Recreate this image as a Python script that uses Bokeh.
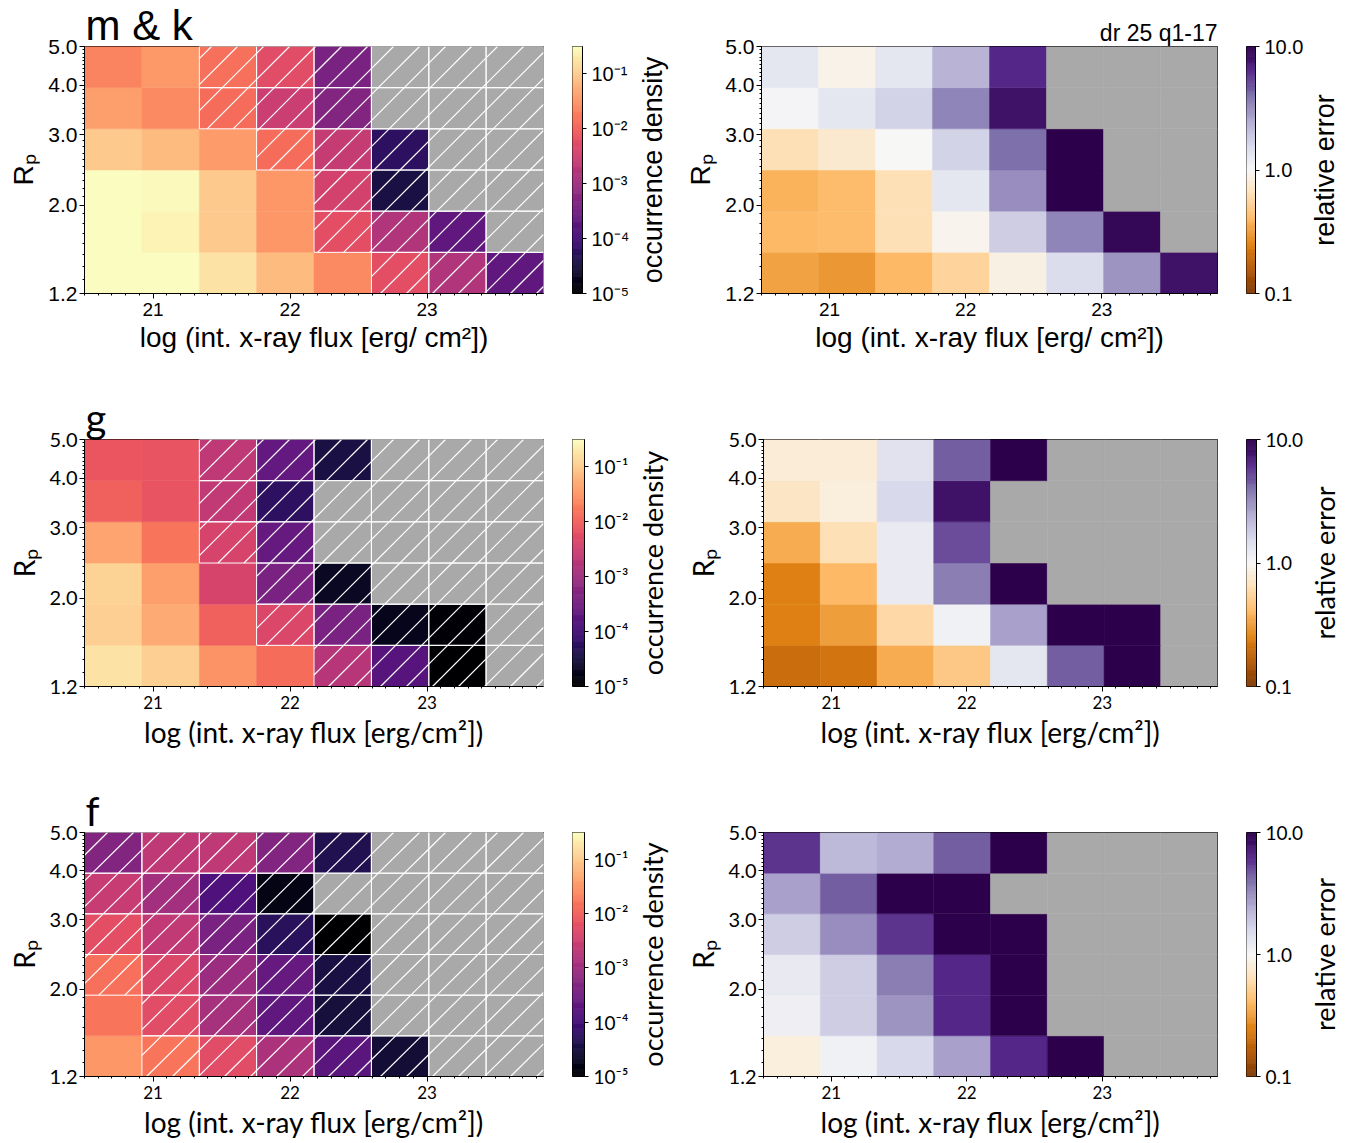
import math
import numpy as np
from bokeh.plotting import figure
from bokeh.layouts import row, column
from bokeh.models import (ColumnDataSource, LogColorMapper, FixedTicker,
                          CustomJSTickFormatter, Range1d, Title)
from bokeh.palettes import Magma256
from bokeh.embed import file_html
from bokeh.resources import INLINE

nan = float("nan")

# ---------------- data ----------------
flux_edges = [20.5, 20.919, 21.338, 21.756, 22.175, 22.594, 23.013, 23.431, 23.85]
rp_edges = [1.2, 1.522, 1.931, 2.449, 3.107, 3.941, 5.0]
x_major = [21, 22, 23]
y_major = [1.2, 2.0, 3.0, 4.0, 5.0]
panel_names = ["m & k", "g", "f"]
dens_ticks = [1e-5, 1e-4, 1e-3, 1e-2, 1e-1]
err_ticks = [0.1, 1.0, 10.0]
dens_low, dens_high = 1e-5, 0.31
err_low, err_high = 0.1, 10.0

# rows listed from the bottom Rp bin (1.2-1.52) to the top bin (3.94-5.0)
density_mk = [
    [0.31, 0.30, 0.17, 0.07, 0.025, 6e-3, 1.6e-3, 2e-4],
    [0.30, 0.25, 0.10, 0.033, 6e-3, 1.6e-3, 2e-4, nan],
    [0.30, 0.28, 0.10, 0.033, 3.7e-3, 3.5e-5, nan, nan],
    [0.10, 0.07, 0.035, 0.013, 2.6e-3, 5.8e-5, nan, nan],
    [0.039, 0.025, 0.013, 3e-3, 5e-4, nan, nan, nan],
    [0.022, 0.034, 0.014, 5.5e-3, 4e-4, nan, nan, nan],
]
hatch_mk = [
    [0, 0, 0, 0, 0, 1, 1, 1],
    [0, 0, 0, 0, 1, 1, 1, 1],
    [0, 0, 0, 0, 1, 1, 1, 1],
    [0, 0, 0, 1, 1, 1, 1, 1],
    [0, 0, 1, 1, 1, 1, 1, 1],
    [0, 0, 1, 1, 1, 1, 1, 1],
]
error_mk = [
    [0.33, 0.30, 0.40, 0.55, 0.87, 1.5, 3.0, 8.0],
    [0.40, 0.42, 0.63, 0.92, 1.8, 3.4, 9.0, nan],
    [0.38, 0.42, 0.63, 1.3, 3.2, 12.0, nan, nan],
    [0.63, 0.75, 1.0, 1.7, 4.0, 12.0, nan, nan],
    [1.05, 1.3, 1.7, 3.4, 8.0, nan, nan, nan],
    [1.3, 0.9, 1.3, 2.3, 6.3, nan, nan, nan],
]

density_g = [
    [0.17, 0.11, 0.03, 0.013, 1.8e-3, 1.6e-4, 1e-5, nan],
    [0.11, 0.05, 0.01, 4.5e-3, 4e-4, 1.7e-5, 1.1e-5, nan],
    [0.12, 0.039, 4e-3, 4e-4, 2e-5, nan, nan, nan],
    [0.044, 0.016, 4e-3, 2.4e-4, nan, nan, nan, nan],
    [0.01, 7e-3, 2.4e-3, 5.8e-5, nan, nan, nan, nan],
    [7.5e-3, 7e-3, 2.2e-3, 2.2e-4, 3.5e-5, nan, nan, nan],
]
hatch_g = [
    [0, 0, 0, 0, 1, 1, 1, 1],
    [0, 0, 0, 1, 1, 1, 1, 1],
    [0, 0, 0, 1, 1, 1, 1, 1],
    [0, 0, 1, 1, 1, 1, 1, 1],
    [0, 0, 1, 1, 1, 1, 1, 1],
    [0, 0, 1, 1, 1, 1, 1, 1],
]
error_g = [
    [0.2, 0.22, 0.36, 0.48, 1.3, 4.5, 12.0, nan],
    [0.25, 0.32, 0.58, 1.1, 2.7, 12.0, 12.0, nan],
    [0.25, 0.4, 1.2, 3.6, 12.0, nan, nan, nan],
    [0.36, 0.63, 1.2, 5.0, nan, nan, nan, nan],
    [0.7, 0.83, 1.58, 8.0, nan, nan, nan, nan],
    [0.8, 0.8, 1.4, 4.5, 12.0, nan, nan, nan],
]

density_f = [
    [0.033, 0.016, 5.5e-3, 1.4e-3, 1.8e-4, 2.8e-5, nan, nan],
    [0.016, 5.5e-3, 1.2e-3, 2e-4, 3.2e-5, nan, nan, nan],
    [0.014, 4.5e-3, 9e-4, 2.4e-4, 3.5e-5, nan, nan, nan],
    [6e-3, 2.4e-3, 4e-4, 5.3e-5, 1e-5, nan, nan, nan],
    [2.7e-3, 1.1e-3, 1.3e-4, 1.5e-5, nan, nan, nan, nan],
    [5e-4, 2.2e-3, 2.2e-3, 5e-4, 4.3e-5, nan, nan, nan],
]
hatch_f = [
    [0, 1, 1, 1, 1, 1, 1, 1],
    [0, 1, 1, 1, 1, 1, 1, 1],
    [1, 1, 1, 1, 1, 1, 1, 1],
    [1, 1, 1, 1, 1, 1, 1, 1],
    [1, 1, 1, 1, 1, 1, 1, 1],
    [1, 1, 1, 1, 1, 1, 1, 1],
]
error_f = [
    [0.83, 1.1, 1.58, 2.7, 6.3, 12.0, nan, nan],
    [1.15, 1.8, 3.0, 6.3, 12.0, nan, nan, nan],
    [1.25, 1.8, 3.6, 6.3, 12.0, nan, nan, nan],
    [1.8, 3.2, 5.8, 12.0, 12.0, nan, nan, nan],
    [2.7, 4.5, 12.0, 12.0, nan, nan, nan, nan],
    [5.8, 2.2, 2.5, 4.5, 12.0, nan, nan, nan],
]

densities = [density_mk, density_g, density_f]
hatches = [hatch_mk, hatch_g, hatch_f]
errors = [error_mk, error_g, error_f]

# ---------------- styles ----------------
NAN_COLOR = "#a9a9a9"
PUOR = ["#7f3b08", "#b35806", "#e08214", "#fdb863", "#fee0b6", "#f7f7f7",
        "#d8daeb", "#b2abd2", "#8073ac", "#542788", "#2d004b"]


def interp_palette(cols, n=256):
    rgb = np.array([[int(c[i:i + 2], 16) for i in (1, 3, 5)] for c in cols], float)
    t = np.linspace(0, 1, len(cols))
    tt = np.linspace(0, 1, n)
    out = []
    for v in tt:
        r, g, b = (np.interp(v, t, rgb[:, k]) for k in range(3))
        out.append("#%02x%02x%02x" % (int(round(r)), int(round(g)), int(round(b))))
    return out


PUOR256 = interp_palette(PUOR)
MAGMA = list(Magma256)

ROW_FONTS = ["Liberation Sans", "Lato", "Lato"]
TITLE_SIZES = ["42px", "40px", "40px"]
FRAME_W, GAP, CB_W, CB_TICKS = 459, 29, 12, 48
LEFTS = [84, 76]
LAB_W = [50, 42]
LAB_STANDOFF = [14, 8]
TOP, FRAME_H = 46, 247
BOTTOMS = [100, 100, 62]
HATCH_SPACING = 26  # screen pixels between 45-degree hatch lines

SUP = CustomJSTickFormatter(code="""
const s = {"-":"\u207b","0":"\u2070","1":"\u00b9","2":"\u00b2","3":"\u00b3",
           "4":"\u2074","5":"\u2075","6":"\u2076","7":"\u2077","8":"\u2078","9":"\u2079"};
const e = Math.round(Math.log10(tick));
return "10" + String(e).split("").map(c => s[c]).join("");
""")
ONE_DEC = CustomJSTickFormatter(code="return tick.toFixed(1);")


def cells(vals, hatch=None):
    d = dict(left=[], right=[], bottom=[], top=[], v=[])
    hd = dict(left=[], right=[], bottom=[], top=[])
    for i, rowvals in enumerate(vals):
        for j, val in enumerate(rowvals):
            d["left"].append(flux_edges[j]); d["right"].append(flux_edges[j + 1])
            d["bottom"].append(rp_edges[i]); d["top"].append(rp_edges[i + 1])
            d["v"].append(val)
            if hatch is not None and hatch[i][j]:
                hd["left"].append(flux_edges[j]); hd["right"].append(flux_edges[j + 1])
                hd["bottom"].append(rp_edges[i]); hd["top"].append(rp_edges[i + 1])
    return ColumnDataSource(d), ColumnDataSource(hd)


def hatch_lines(hatch):
    """45-degree '/' hatch lines clipped to each hatched cell (screen-space geometry)."""
    px_x = FRAME_W / (flux_edges[-1] - flux_edges[0])
    px_y = FRAME_H / math.log(rp_edges[-1] / rp_edges[0])
    U = lambda x: (x - flux_edges[0]) * px_x
    V = lambda y: math.log(y / rp_edges[0]) * px_y
    X = lambda u: flux_edges[0] + u / px_x
    Y = lambda v: rp_edges[0] * math.exp(v / px_y)
    S = HATCH_SPACING
    d = dict(x0=[], y0=[], x1=[], y1=[])
    for i, hrow in enumerate(hatch):
        for j, hflag in enumerate(hrow):
            if not hflag:
                continue
            u0, u1 = U(flux_edges[j]), U(flux_edges[j + 1])
            v0, v1 = V(rp_edges[i]), V(rp_edges[i + 1])
            for k in range(math.floor((u0 - v1) / S) - 1, math.ceil((u1 - v0) / S) + 2):
                c = k * S + 10
                a = max(u0, v0 + c)
                b = min(u1, v1 + c)
                if b - a > 0.5:
                    d["x0"].append(X(a)); d["y0"].append(Y(a - c))
                    d["x1"].append(X(b)); d["y1"].append(Y(b - c))
    return ColumnDataSource(d)


def style_axes(p, font, lab):
    for ax in p.axis:
        ax.axis_line_color = "black"
        ax.major_tick_line_color = "black"
        ax.minor_tick_line_color = "black"
        ax.major_tick_in = 0
        ax.minor_tick_in = 0
        ax.major_tick_out = 5
        ax.minor_tick_out = 2
        ax.major_label_text_font = font
        ax.axis_label_text_font = font
        ax.axis_label_text_font_style = "normal"
        ax.axis_label_text_font_size = lab
        ax.axis_label_text_color = "black"
        ax.major_label_text_color = "black"
    p.grid.visible = False
    p.outline_line_color = "black"
    p.outline_line_width = 1


def heat(vals, mapper, r, side, hatch=None, title=None, corner=None):
    font = ROW_FONTS[r]
    h = TOP + FRAME_H + BOTTOMS[r]
    p = figure(width=LEFTS[side] + FRAME_W + GAP, height=h,
               x_range=Range1d(flux_edges[0], flux_edges[-1]),
               y_range=Range1d(rp_edges[0], rp_edges[-1]),
               y_axis_type="log", output_backend="svg", toolbar_location=None,
               min_border_left=LEFTS[side], min_border_right=GAP,
               min_border_top=TOP, min_border_bottom=BOTTOMS[r])
    src, hsrc = cells(vals, hatch)
    p.quad(left="left", right="right", bottom="bottom", top="top", source=src,
           fill_color={"field": "v", "transform": mapper},
           line_color={"field": "v", "transform": mapper}, line_width=0.5)
    if hatch is not None:
        p.segment(x0="x0", y0="y0", x1="x1", y1="y1", source=hatch_lines(hatch),
                  line_color="white", line_width=1.2)
        p.quad(left="left", right="right", bottom="bottom", top="top", source=hsrc,
               fill_color=None, line_color="white", line_width=1)
    p.xaxis.ticker = FixedTicker(ticks=x_major,
                                 minor_ticks=[round(20.5 + 0.1 * k, 1) for k in range(34)])
    p.yaxis.ticker = FixedTicker(ticks=y_major,
                                 minor_ticks=[round(1.2 + 0.1 * k, 1) for k in range(39)])
    p.yaxis.formatter = ONE_DEC
    xl = "log (int. x-ray flux [erg/ cm\u00b2])" if r == 0 else "log (int. x-ray flux [erg/cm\u00b2])"
    p.xaxis.axis_label = xl
    p.yaxis.axis_label = "R\u209a"
    style_axes(p, font, "28px")
    p.yaxis.major_label_text_font_size = "21px" if r == 0 else "20px"
    p.xaxis.major_label_text_font_size = "19px" if r == 0 else "17px"
    p.yaxis.major_label_standoff = 2
    p.xaxis.major_label_standoff = 4
    p.yaxis.axis_label_standoff = 6
    p.xaxis.axis_label_standoff = 3
    if title:
        p.add_layout(Title(text=title, align="left", vertical_align="bottom", standoff=-4,
                           offset=1, text_font=font, text_font_size=TITLE_SIZES[r],
                           text_font_style="normal", text_color="black"), "above")
    if corner:
        p.add_layout(Title(text=corner, align="right", vertical_align="bottom", standoff=2,
                           offset=0, text_font=font, text_font_size="23px",
                           text_font_style="normal", text_color="black"), "above")
    return p


def cbar(palette, low, high, ticks, fmt, r):
    font = ROW_FONTS[r]
    h = TOP + FRAME_H + BOTTOMS[r]
    c = figure(width=CB_W + CB_TICKS, height=h, x_range=Range1d(0, 1),
               y_range=Range1d(low, high), y_axis_type="log", y_axis_location="right",
               x_axis_location=None, output_backend="svg", toolbar_location=None,
               min_border_left=0, min_border_right=CB_TICKS,
               min_border_top=TOP, min_border_bottom=BOTTOMS[r])
    edges = np.logspace(np.log10(low), np.log10(high), len(palette) + 1)
    c.quad(left=0, right=1, bottom=edges[:-1], top=edges[1:], fill_color=palette,
           line_color=palette, line_width=0.6)
    c.yaxis.ticker = FixedTicker(ticks=ticks, minor_ticks=[])
    c.yaxis.formatter = fmt
    style_axes(c, font, "27px")
    c.yaxis.major_label_text_font_size = "20px" if r == 0 else "19px"
    c.yaxis.major_tick_out = 4
    c.yaxis.major_label_standoff = 5
    return c


def cb_label(text, r, side):
    # a narrow companion figure whose left-axis label carries the colour-bar title
    font = ROW_FONTS[r]
    h = TOP + FRAME_H + BOTTOMS[r]
    w = LAB_W[side]
    f = figure(width=w, height=h, x_range=Range1d(0, 1), y_range=Range1d(0, 1),
               x_axis_location=None, y_axis_location="left", output_backend="svg",
               toolbar_location=None, min_border_left=w - 1, min_border_right=0,
               min_border_top=TOP, min_border_bottom=BOTTOMS[r])
    f.outline_line_color = None
    f.grid.visible = False
    ax = f.yaxis[0]
    ax.ticker = FixedTicker(ticks=[], minor_ticks=[])
    ax.axis_line_color = None
    ax.major_tick_line_color = None
    ax.minor_tick_line_color = None
    ax.major_tick_out = 0
    ax.minor_tick_out = 0
    ax.major_tick_in = 0
    ax.minor_tick_in = 0
    ax.major_label_text_font_size = "0px"
    ax.major_label_standoff = 0
    ax.axis_label = text
    ax.axis_label_text_font = font
    ax.axis_label_text_font_size = "27px"
    ax.axis_label_text_font_style = "normal"
    ax.axis_label_text_color = "black"
    ax.axis_label_standoff = LAB_STANDOFF[side]
    return f


rows = []
for r in range(3):
    dmap = LogColorMapper(palette=MAGMA, low=dens_low, high=dens_high, nan_color=NAN_COLOR)
    emap = LogColorMapper(palette=PUOR256, low=err_low, high=err_high, nan_color=NAN_COLOR)
    pl = heat(densities[r], dmap, r, 0, hatch=hatches[r], title=panel_names[r])
    cl = cbar(MAGMA, dens_low, dens_high, dens_ticks, SUP, r)
    ll = cb_label("occurrence density", r, 0)
    pr = heat(errors[r], emap, r, 1, corner="dr 25 q1-17" if r == 0 else None)
    cr = cbar(PUOR256, err_low, err_high, err_ticks, ONE_DEC, r)
    lr = cb_label("relative error", r, 1)
    rows.append(row(pl, cl, ll, pr, cr, lr))

layout = column(*rows)
open("out.html", "w").write(file_html(layout, INLINE))
